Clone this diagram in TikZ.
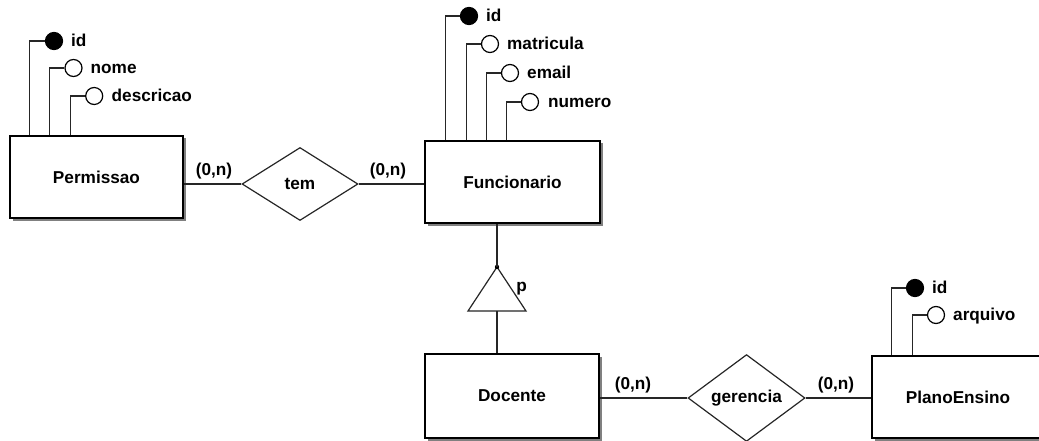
\documentclass[tikz,border=0pt]{standalone}
\usepackage{fontspec}
\setmainfont{Liberation Sans}
\usetikzlibrary{shapes.geometric,shadows}
\begin{document}
\begin{tikzpicture}[x=1pt,y=-1pt,
  every node/.style={font=\fontsize{17.2}{20}\selectfont\bfseries, text=black},
  entity/.style={draw=black, fill=white, line width=1.6pt, inner sep=0pt,
    general shadow={fill=black!50, shadow xshift=2.5pt, shadow yshift=-2.5pt}},
  relation/.style={diamond, draw=black!85, fill=white, line width=1.2pt, inner sep=0pt,
    minimum width=116pt, minimum height=73pt},
  link/.style={draw=black!85, line width=1.2pt},
  keyattr/.style={circle, draw=black, fill=black, line width=1.2pt, minimum size=17pt, inner sep=0pt},
  attr/.style={circle, draw=black, fill=white, line width=1.2pt, minimum size=17pt, inner sep=0pt},
  attrname/.style={anchor=base west, inner sep=0pt},
  card/.style={inner sep=0pt}
]
\useasboundingbox (0,0) rectangle (1039,441);
\clip (0,0) rectangle (1039,441);

% entities
\node[entity, minimum width=173pt, minimum height=82pt] (perm)  at (96.5,177) {Permissao};
\node[entity, minimum width=175pt, minimum height=82pt] (func)  at (512.5,182) {Funcionario};
\node[entity, minimum width=174pt, minimum height=84pt] (doc)   at (512,396) {Docente};
\node[entity, minimum width=172pt, minimum height=82pt] (plano) at (958,397) {PlanoEnsino};

% relationships
\node[relation] (tem) at (300,184) {tem};
\node[relation, minimum width=117pt, minimum height=71pt] (ger) at (746.5,398) {gerencia};

\draw[link] (tem.west) -- (tem.west -| perm.east);
\draw[link] (tem.east) -- (tem.east -| func.west);
\draw[link] (ger.west) -- (ger.west -| doc.east);
\draw[link] (ger.east) -- (ger.east -| plano.west);

% cardinalities
\node[card] (c1) at (214,171.5) {(0,n)};
\node[card] (c2) at (388,171.5) {(0,n)};
\node[card] (c3) at (633,385) {(0,n)};
\node[card] (c4) at (836,385) {(0,n)};

% specialization Funcionario -> Docente
\coordinate (apex) at (497,267);
\coordinate (bl) at (468,311);
\coordinate (br) at (526,311);
\coordinate (isa) at (497,311);
\draw[link, fill=white] (apex) -- (br) -- (bl) -- cycle;
\fill[black] (apex) circle (2.2pt);
\draw[link] (apex |- func.south) -- (apex);
\draw[link] (isa) -- (apex |- doc.north);
\node[card] (plab) at (521.5,289) {p};

% attributes of Permissao
\node[keyattr] (pid) at (54,41) {};
\node[attrname] (pidt) at (71,46.5) {id};
\draw[link] (pid.west) -| ([xshift=20pt]perm.north west);
\node[attr] (pnome) at (73.5,68) {};
\node[attrname] (pnomet) at (90.5,73.5) {nome};
\draw[link] (pnome.west) -| ([xshift=40pt]perm.north west);
\node[attr] (pdesc) at (94.2,96) {};
\node[attrname] (pdesct) at (111.5,101.5) {descricao};
\draw[link] (pdesc.west) -| ([xshift=61pt]perm.north west);

% attributes of Funcionario
\node[keyattr] (fid) at (469,16) {};
\node[attrname] (fidt) at (486,21.5) {id};
\draw[link] (fid.west) -| ([xshift=21pt]func.north west);
\node[attr] (fmat) at (490,44) {};
\node[attrname] (fmatt) at (507,49.5) {matricula};
\draw[link] (fmat.west) -| ([xshift=42pt]func.north west);
\node[attr] (fmail) at (510,73) {};
\node[attrname] (fmailt) at (527,78.5) {email};
\draw[link] (fmail.west) -| ([xshift=62pt]func.north west);
\node[attr] (fnum) at (530,102) {};
\node[attrname] (fnumt) at (548,107.5) {numero};
\draw[link] (fnum.west) -| ([xshift=82pt]func.north west);

% attributes of PlanoEnsino
\node[keyattr] (eid) at (915,288) {};
\node[attrname] (eidt) at (932,293.5) {id};
\draw[link] (eid.west) -| ([xshift=20pt]plano.north west);
\node[attr] (earq) at (936,315) {};
\node[attrname] (earqt) at (953,320.5) {arquivo};
\draw[link] (earq.west) -| ([xshift=41pt]plano.north west);
\end{tikzpicture}
\end{document}
